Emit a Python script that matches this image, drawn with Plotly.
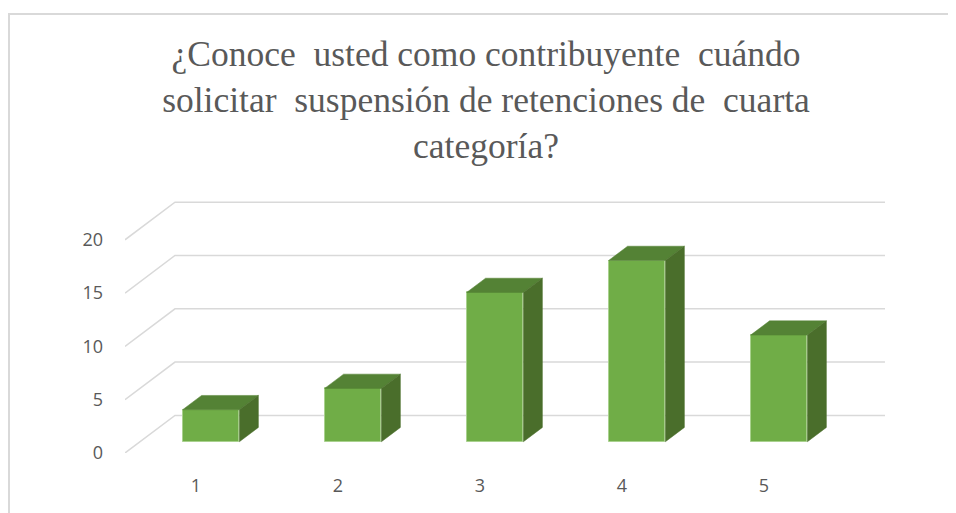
import plotly.graph_objects as go

# ---- data ----
categories = [1, 2, 3, 4, 5]
values = [3, 5, 14, 17, 10]
y_ticks = [0, 5, 10, 15, 20]
title_text = ("¿Conoce  usted como contribuyente  cuándo<br>"
              "solicitar  suspensión de retenciones de  cuarta<br>"
              "categoría?")

# ---- style / projection parameters ----
KX = 0.352      # depth shift in category units
KY = 3.527      # depth shift in value units
BAR_W = 0.40
D0, D1 = 0.30, 0.68
FRONT = "#70AD47"
TOP = "#548235"
SIDE = "#4A6E2B"
EDGE = "#A9D18E"
GRID = "#D9D9D9"

W, H = 948, 505
ML, MT, PW, PH = 117, 193, 760, 252

fig = go.Figure()

# back-wall gridlines with oblique edge lines (drawn below traces)
x_min, x_max = 0.5, len(categories) + 0.5
for v in y_ticks:
    fig.add_shape(type="path", xref="x", yref="y", layer="below",
                  path=f"M {x_min},{v} L {x_min + KX},{v + KY} L {x_max + KX},{v + KY}",
                  line=dict(color=GRID, width=1.5))

# front faces
fig.add_trace(go.Bar(
    x=[c + D0 * KX for c in categories], y=values, base=[D0 * KY] * len(values),
    width=BAR_W, marker=dict(color=FRONT, line=dict(color=EDGE, width=1)),
    hoverinfo="skip", showlegend=False))

# top and side faces
for c, v in zip(categories, values):
    xl, xr = c - BAR_W / 2, c + BAR_W / 2
    fig.add_trace(go.Scatter(
        x=[xl + D0 * KX, xr + D0 * KX, xr + D1 * KX, xl + D1 * KX, xl + D0 * KX],
        y=[v + D0 * KY, v + D0 * KY, v + D1 * KY, v + D1 * KY, v + D0 * KY],
        fill="toself", fillcolor=TOP, mode="lines", line=dict(color=TOP, width=0.5),
        hoverinfo="skip", showlegend=False, cliponaxis=False))
    fig.add_trace(go.Scatter(
        x=[xr + D0 * KX, xr + D1 * KX, xr + D1 * KX, xr + D0 * KX, xr + D0 * KX],
        y=[D0 * KY, D1 * KY, v + D1 * KY, v + D0 * KY, D0 * KY],
        fill="toself", fillcolor=SIDE, mode="lines", line=dict(color=SIDE, width=0.5),
        hoverinfo="skip", showlegend=False, cliponaxis=False))

# chart border (light grey frame, cropped at right/bottom)
fig.add_shape(type="rect", xref="paper", yref="paper",
              x0=(1 - ML) / PW, x1=1.3, y0=-0.5, y1=1 + (MT - 6) / PH,
              line=dict(color=GRID, width=2), layer="below")

fig.update_layout(
    width=W, height=H,
    margin=dict(l=ML, r=W - ML - PW, t=MT, b=H - MT - PH),
    paper_bgcolor="white", plot_bgcolor="white",
    title=dict(text=title_text, x=478 / W, xanchor="center", xref="container",
               y=0.886, yanchor="top", yref="container",
               font=dict(family="Liberation Serif, Times New Roman, serif",
                         size=35.5, color="#595959")),
    bargap=0,
    xaxis=dict(range=[x_min, x_min + PW / 142], tickmode="array",
               tickvals=categories, ticktext=[str(c) for c in categories],
               showgrid=False, zeroline=False, showline=False,
               ticks="", ticklabelstandoff=20,
               tickfont=dict(family="Open Sans, Liberation Sans, sans-serif",
                             size=18, color="#595959")),
    yaxis=dict(range=[0, PH / 10.66], tickmode="array", tickvals=y_ticks,
               ticktext=[str(t) for t in y_ticks],
               showgrid=False, zeroline=False, showline=False,
               ticks="", ticklabelstandoff=21,
               tickfont=dict(family="Open Sans, Liberation Sans, sans-serif",
                             size=18, color="#595959")),
)

fig.write_html("out.html")
